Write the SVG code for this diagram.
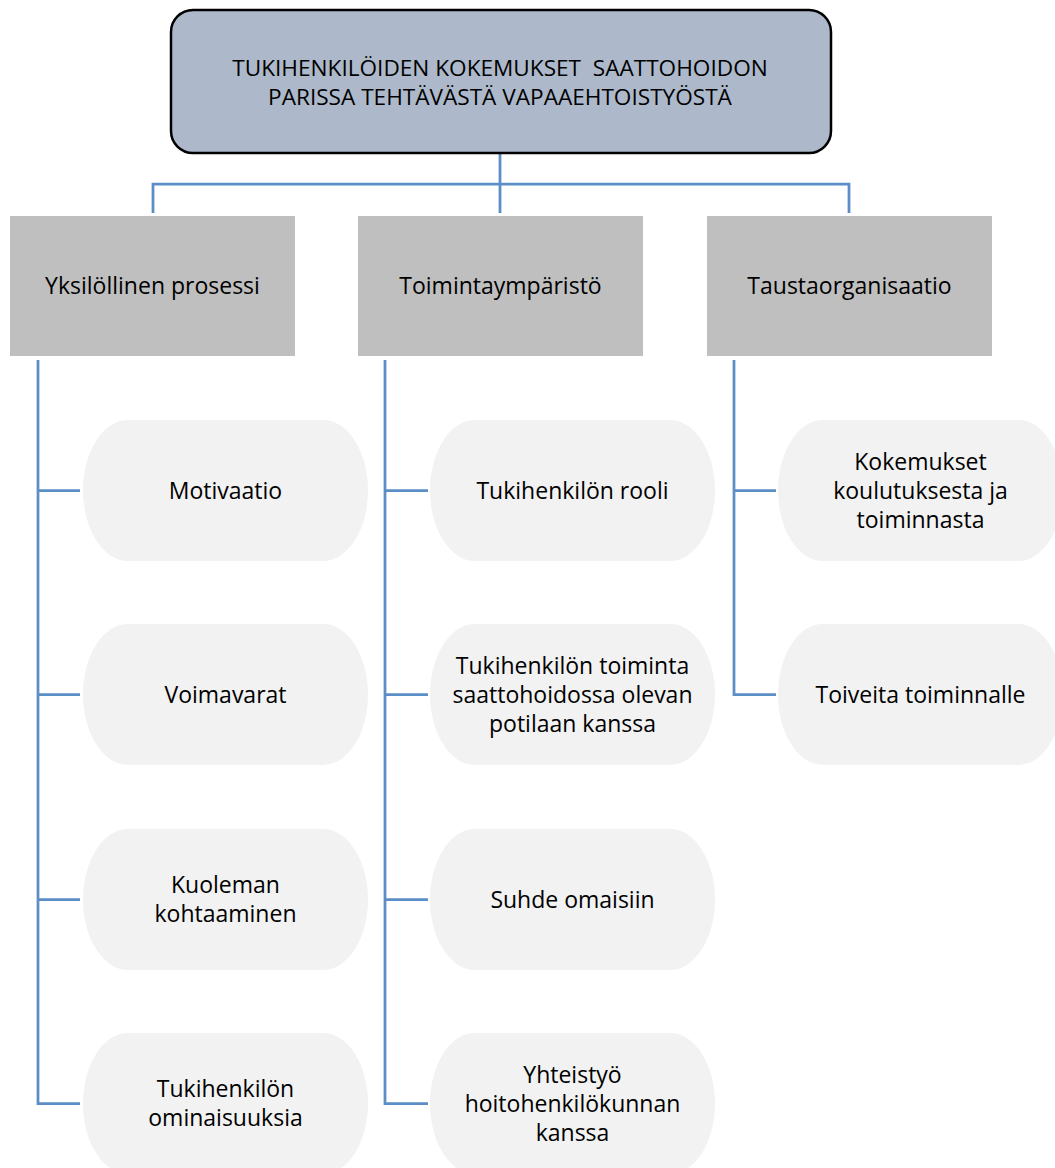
<svg xmlns="http://www.w3.org/2000/svg" width="1055" height="1168" viewBox="0 0 1055 1168">
<style>
text{font-family:"Open Sans","Noto Sans","DejaVu Sans",sans-serif;font-size:23px;fill:#000;text-anchor:middle}
.title{font-size:22.6px;white-space:pre}
.conn{fill:none;stroke:#5b8ec7;stroke-width:2.75}
.top{fill:#adb9ca;stroke:#000;stroke-width:2.5}
.cat{fill:#bfbfbf}
.leaf{fill:#f2f2f2}
</style>
<rect width="1055" height="1168" fill="#fff"/>
<g id="connectors">
<path class="conn" d="M500 153 V213 M153 213 V184 H849 V213"/>
<path class="conn" d="M38 360 V1103.5 H80 M38 490.5 H80 M38 694.5 H80 M38 899.5 H80"/>
<path class="conn" d="M385 360 V1103.5 H428 M385 490.5 H428 M385 694.5 H428 M385 899.5 H428"/>
<path class="conn" d="M734 360 V694.5 H776 M734 490.5 H776"/>
</g>
<g id="root">
<rect class="top" x="171" y="10" width="660" height="143" rx="22" ry="22"/>
<text class="title" x="500" y="76">TUKIHENKILÖIDEN KOKEMUKSET  SAATTOHOIDON</text>
<text class="title" x="500" y="105">PARISSA TEHTÄVÄSTÄ VAPAAEHTOISTYÖSTÄ</text>
</g>
<g id="cat1"><rect class="cat" x="10" y="216" width="285" height="140"/><text x="152.5" y="293.5">Yksilöllinen prosessi</text></g>
<g id="cat2"><rect class="cat" x="358" y="216" width="285" height="140"/><text x="500.5" y="293.5">Toimintaympäristö</text></g>
<g id="cat3"><rect class="cat" x="707" y="216" width="285" height="140"/><text x="849.5" y="293.5">Taustaorganisaatio</text></g>

<g id="n1a"><rect class="leaf" x="83" y="420" width="285" height="141" rx="45" ry="70.5"/><text x="225.5" y="498.5">Motivaatio</text></g>
<g id="n1b"><rect class="leaf" x="83" y="624" width="285" height="141" rx="45" ry="70.5"/><text x="225.5" y="702.5">Voimavarat</text></g>
<g id="n1c"><rect class="leaf" x="83" y="829" width="285" height="141" rx="45" ry="70.5"/><text x="225.5" y="893">Kuoleman</text><text x="225.5" y="922">kohtaaminen</text></g>
<g id="n1d"><rect class="leaf" x="83" y="1033" width="285" height="141" rx="45" ry="70.5"/><text x="225.5" y="1097">Tukihenkilön</text><text x="225.5" y="1126">ominaisuuksia</text></g>

<g id="n2a"><rect class="leaf" x="430" y="420" width="285" height="141" rx="45" ry="70.5"/><text x="572.5" y="498.5">Tukihenkilön rooli</text></g>
<g id="n2b"><rect class="leaf" x="430" y="624" width="285" height="141" rx="45" ry="70.5"/><text x="572.5" y="673.5">Tukihenkilön toiminta</text><text x="572.5" y="702.5">saattohoidossa olevan</text><text x="572.5" y="731.5">potilaan kanssa</text></g>
<g id="n2c"><rect class="leaf" x="430" y="829" width="285" height="141" rx="45" ry="70.5"/><text x="572.5" y="907.5">Suhde omaisiin</text></g>
<g id="n2d"><rect class="leaf" x="430" y="1033" width="285" height="141" rx="45" ry="70.5"/><text x="572.5" y="1082.5">Yhteistyö</text><text x="572.5" y="1111.5">hoitohenkilökunnan</text><text x="572.5" y="1140.5">kanssa</text></g>

<g id="n3a"><rect class="leaf" x="778" y="420" width="285" height="141" rx="45" ry="70.5"/><text x="920.5" y="469.5">Kokemukset</text><text x="920.5" y="498.5">koulutuksesta ja</text><text x="920.5" y="527.5">toiminnasta</text></g>
<g id="n3b"><rect class="leaf" x="778" y="624" width="285" height="141" rx="45" ry="70.5"/><text x="920.5" y="702.5">Toiveita toiminnalle</text></g>
</svg>
